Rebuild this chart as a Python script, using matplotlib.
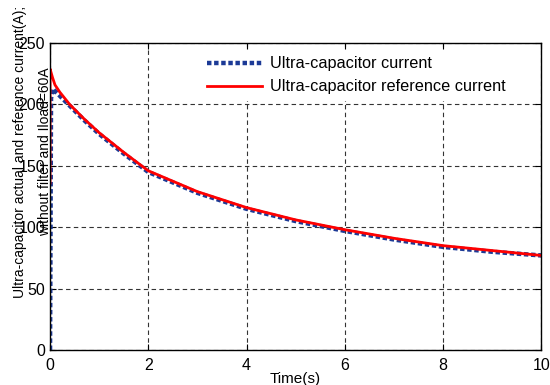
import numpy as np
import matplotlib
matplotlib.use('Agg')
from matplotlib import pyplot as plt

plt.rcParams['font.family'] = ['Liberation Sans', 'DejaVu Sans']

# 기준 전류 (빨강)
t_ref = [0, 0, 0.05, 0.1, 0.2, 0.4, 0.7, 1.0, 1.5, 2.0, 3.0, 4.0, 5.0, 6.0, 7.0, 8.0, 9.0, 10.0]
i_ref = [136, 229, 222, 216, 210, 200, 188, 177, 161, 146, 129, 116, 106, 98, 91, 85, 81, 77]

# 실제 전류 (파랑 점선)
t_uc = [0, 0.02, 0.06, 0.1, 0.2, 0.4, 0.7, 1.0, 1.5, 2.0, 3.0, 4.0, 5.0, 6.0, 7.0, 8.0, 9.0, 10.0]
i_uc = [0, 205, 213, 211, 207, 199, 187, 176, 160, 145, 128, 115, 105, 97, 90, 84, 80, 77]

fig = plt.figure(figsize=(5.5, 3.85), dpi=100)
ax = fig.add_axes([0.091, 0.091, 0.893, 0.797])

ax.plot(t_uc, i_uc, color='#1c3a96', linestyle=(0, (1, 0.6)), linewidth=3.2,
        label='Ultra-capacitor current')
ax.plot(t_ref, i_ref, color='#ff0000', linewidth=2, label='Ultra-capacitor reference current')

ax.set_xlim(0, 10)
ax.set_ylim(0, 250)
ax.set_xticks([0, 2, 4, 6, 8, 10])
ax.set_yticks([0, 50, 100, 150, 200, 250])
ax.grid(True, linestyle=(0, (4, 3)), color='#333333', linewidth=0.8)
ax.tick_params(direction='in', top=True, right=True, labelsize=11.5, length=4)
ax.tick_params(axis='x', pad=6)
for s in ax.spines.values():
    s.set_linewidth(1.0)

ax.set_xlabel('Time(s)', fontsize=11, labelpad=-1)

fig.text(0.036, 0.605, 'Ultra-capacitor actual and reference current(A);', rotation=90,
         ha='center', va='center', fontsize=10)
fig.text(0.082, 0.605, 'without filter and Iload=60A', rotation=90,
         ha='center', va='center', fontsize=10)

leg = ax.legend(loc='upper left', bbox_to_anchor=(0.29, 1.005), fontsize=11.7,
                frameon=True, fancybox=False, edgecolor='none', facecolor='white',
                framealpha=1, handlelength=3.4, handletextpad=0.5, labelspacing=0.5)

fig.savefig('out.png', dpi=100)
